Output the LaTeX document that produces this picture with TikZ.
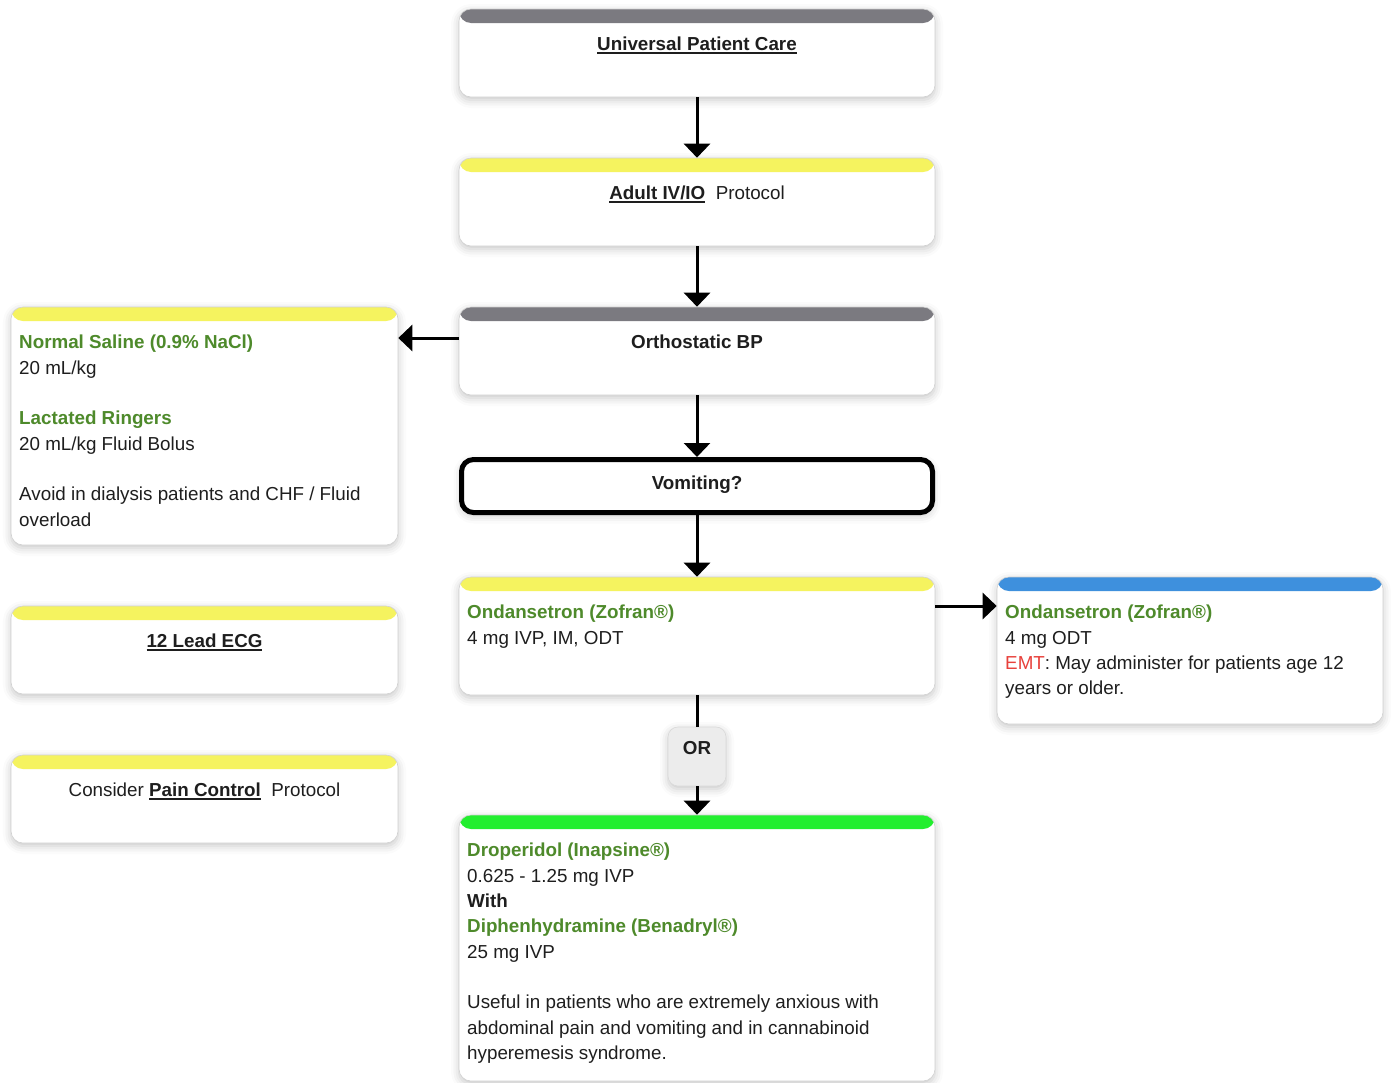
\documentclass[tikz,border=0pt]{standalone}
\usepackage{fontspec}
\setmainfont{Liberation Sans}
\usetikzlibrary{arrows.meta,shadows.blur}

\definecolor{hdGray}{HTML}{7B7A80}
\definecolor{hdYellow}{HTML}{F5F35F}
\definecolor{hdBlue}{HTML}{3E90DD}
\definecolor{hdGreen}{HTML}{22EE2E}
\definecolor{drugGreen}{HTML}{4E8A2B}
\definecolor{emtRed}{HTML}{E8413C}
\definecolor{txt}{HTML}{1E1E1E}
\definecolor{orFill}{HTML}{ECECEC}

\newcommand\drug[1]{\textcolor{drugGreen}{\bfseries #1}}
\newcommand\ulink[1]{\setbox0\hbox{\bfseries #1}\rlap{\rule[-3.5pt]{\wd0}{1.6pt}}\box0}

\begin{document}
\begin{tikzpicture}[x=1pt, y=-1pt,
  font=\fontsize{18.8}{25.3}\selectfont\color{txt},
  card/.style={rectangle, rounded corners=12pt, fill=white, draw=black!18,
    line width=0.6pt, minimum width=476pt, minimum height=88pt, inner sep=0pt,
    blur shadow={shadow xshift=0pt, shadow yshift=-3pt, shadow blur radius=8pt,
      shadow opacity=22}},
  hdr/.style={path picture={\fill[#1] ([yshift=2pt]path picture bounding box.north west)
    rectangle ([yshift=-14pt]path picture bounding box.north east);}},
  title/.style={anchor=base, inner sep=0pt},
  body/.style={anchor=north west, align=left, inner sep=0pt},
  line/.style={draw=black, line width=3pt},
  arr/.style={line, -{Triangle[width=26pt,length=14pt]}}]
\useasboundingbox (0,0) rectangle (1391,1082);

% Main column
\node[card, hdr=hdGray] (upc) at (697,53) {};
\node[title] (upct) at (697,50) {\ulink{Universal Patient Care}};

\node[card, hdr=hdYellow] (iv) at (697,202) {};
\node[title] (ivt) at (697,199) {\ulink{Adult IV/IO}\ \ Protocol};

\node[card, hdr=hdGray] (orth) at (697,351) {};
\node[title] (ortht) at (697,348) {\bfseries Orthostatic BP};

\node[card, draw=black, line width=5pt, minimum width=471pt, minimum height=53pt] (vom) at (697,486) {};
\node[title] (vomt) at (697,489) {\bfseries Vomiting?};

\node[card, hdr=hdYellow, minimum height=118pt] (ond) at (697,636) {};
\node[body] (ondt) at (467,601) {\strut\drug{Ondansetron (Zofran®)}\\4 mg IVP, IM, ODT};

% OR between the two drug options
\node[card, fill=orFill, draw=black!15, rounded corners=10pt, minimum width=58pt, minimum height=59pt] (orn) at (697,756.5) {};
\node[title] (ornt) at (697,754) {\bfseries OR};

\node[card, hdr=hdGreen, minimum height=266pt] (drop) at (697,948) {};
\node[body] (dropt) at (467,839) {\strut\drug{Droperidol (Inapsine®)}\\
  0.625 - 1.25 mg IVP\\
  {\bfseries With}\\
  \drug{Diphenhydramine (Benadryl®)}\\
  25 mg IVP\\[25.3pt]
  Useful in patients who are extremely anxious with\\
  abdominal pain and vomiting and in cannabinoid\\
  hyperemesis syndrome.};

% Right side
\node[card, hdr=hdBlue, minimum width=386pt, minimum height=147pt] (ondr) at (1190,650.5) {};
\node[body] (ondrt) at (1005,601) {\strut\drug{Ondansetron (Zofran®)}\\
  4 mg ODT\\
  \textcolor{emtRed}{EMT}: May administer for patients age 12\\
  years or older.};

% Left side
\node[card, hdr=hdYellow, minimum width=387pt, minimum height=238pt] (ns) at (204.5,426) {};
\node[body] (nst) at (19,331) {\strut\drug{Normal Saline (0.9\% NaCl)}\\
  20 mL/kg\\[25.3pt]
  \drug{Lactated Ringers}\\
  20 mL/kg Fluid Bolus\\[25.3pt]
  Avoid in dialysis patients and CHF / Fluid\\
  overload};

\node[card, hdr=hdYellow, minimum width=387pt] (ecg) at (204.5,650) {};
\node[title] (ecgt) at (204.5,647) {\ulink{12 Lead ECG}};

\node[card, hdr=hdYellow, minimum width=387pt] (pain) at (204.5,799) {};
\node[title] (paint) at (204.5,796) {Consider \ulink{Pain Control}\ \ Protocol};

% Connectors
\draw[arr] (upc) -- (iv);
\draw[arr] (iv) -- (orth);
\draw[arr] (orth) -- (vom);
\draw[arr] (vom) -- (ond);
\draw[arr] ([yshift=13pt]orth.west) -- ([yshift=13pt]orth.west -| ns.east);
\draw[arr] ([yshift=30pt]ond.east) -- ([yshift=30pt]ond.east -| ondr.west);
\draw[line] (ond) -- (orn);
\draw[arr] (orn) -- (drop);
\end{tikzpicture}
\end{document}
